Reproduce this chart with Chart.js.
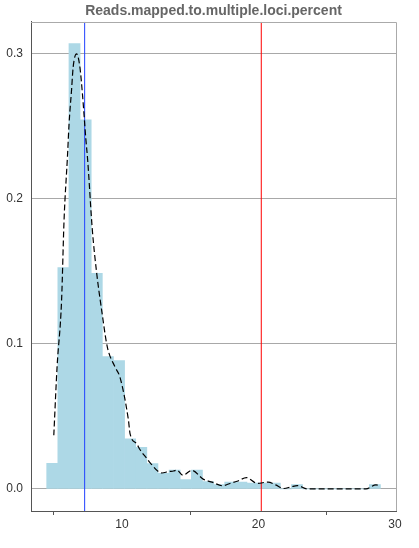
<!DOCTYPE html>
<html>
<head>
<meta charset="utf-8">
<title>Reads.mapped.to.multiple.loci.percent</title>
<script src="https://cdn.jsdelivr.net/npm/chart.js@4.4.1/dist/chart.umd.min.js"></script>
<style>
  html, body { margin: 0; padding: 0; background: #fff; }
</style>
</head>
<body>
<canvas id="chart" width="419" height="548"></canvas>
<script>
// histogram bins (centres) and density heights
const binCenters = [4.888, 5.703, 6.518, 7.333, 8.148, 8.963, 9.778, 10.593, 11.408, 12.223,
  13.038, 13.853, 14.668, 15.483, 16.298, 17.113, 17.928, 18.743, 19.558, 20.373,
  21.188, 22.003, 22.818, 23.633, 24.448, 25.263, 26.078, 26.893, 27.708, 28.523];
const binHeights = [0.0177, 0.1526, 0.307, 0.2545, 0.1487, 0.0912, 0.0885, 0.0345, 0.0287, 0.0175,
  0.0108, 0.0131, 0.0065, 0.0131, 0.005, 0.003, 0.0048, 0.0048, 0.004, 0.004,
  0.004, 0, 0.003, 0, 0, 0, 0, 0, 0, 0.003];

// kernel density curve
const densityX = [5.0, 5.24, 5.57, 5.75, 6.0, 6.12, 6.3, 6.42, 6.67, 6.91, 7.11, 7.35, 7.48, 7.82,
  8.14, 8.51, 8.92, 9.49, 9.85, 10.46, 10.59, 11.08, 11.32, 11.82, 12.06, 12.92, 13.4, 13.77,
  14.02, 14.45, 15.12, 15.97, 16.6, 17.35, 17.94, 18.43, 19.12, 19.9, 20.7, 21.25, 21.86,
  22.4, 22.84, 23.58, 27.87, 28.6, 28.85];
const densityY = [0.037, 0.084, 0.13, 0.185, 0.229, 0.252, 0.275, 0.291, 0.3, 0.291, 0.271, 0.241, 0.227, 0.179,
  0.149, 0.123, 0.098, 0.084, 0.077, 0.048, 0.038, 0.031, 0.027, 0.021, 0.018, 0.011, 0.012, 0.0124,
  0.013, 0.0095, 0.0128, 0.0066, 0.0047, 0.0022, 0.0039, 0.0053, 0.0078, 0.0039, 0.0047, 0.0028, 0.0003,
  0.0015, 0.0023, 0, 0, 0.0028, 0.0025];

// reference lines
const markerValues = [7.26, 20.2];
const markerColors = ["#2040ff", "#ff0000"];

// axes
const xTicks = [10, 20, 30];
const yTicks = [0, 0.1, 0.2, 0.3];
const xMin = 3.33, xMax = 30.07;
const yMin = -0.0152, yMax = 0.3221;

Chart.defaults.font.family = "'Liberation Sans', Arial, sans-serif";
Chart.defaults.font.size = 12;
Chart.defaults.color = "#333";

// light frame on top and right of the plot
const framePlugin = {
  id: "frame",
  afterDraw(chart) {
    const { ctx, chartArea: a } = chart;
    ctx.save();
    ctx.strokeStyle = "#aaaaaa";
    ctx.lineWidth = 1;
    ctx.beginPath();
    ctx.moveTo(a.left, Math.round(a.top) + 0.5);
    ctx.lineTo(Math.round(a.right) + 0.5, Math.round(a.top) + 0.5);
    ctx.lineTo(Math.round(a.right) + 0.5, a.bottom);
    ctx.stroke();
    ctx.restore();
  }
};

const datasets = [
  {
    type: "bar",
    label: "histogram",
    data: binCenters.map((x, i) => ({ x: x, y: binHeights[i] })),
    backgroundColor: "#add8e6",
    borderWidth: 0,
    barPercentage: 1,
    categoryPercentage: 1,
    order: 3
  },
  ...markerValues.map((v, i) => ({
    type: "line",
    label: "marker" + i,
    data: [{ x: v, y: yMin }, { x: v, y: yMax }],
    borderColor: markerColors[i],
    borderWidth: 1,
    pointRadius: 0,
    order: 2
  })),
  {
    type: "line",
    label: "density",
    data: densityX.map((x, i) => ({ x: x, y: densityY[i] })),
    borderColor: "#000",
    borderWidth: 1.2,
    borderDash: [6, 3],
    pointRadius: 0,
    fill: false,
    cubicInterpolationMode: "monotone",
    order: 1
  }
];

new Chart(document.getElementById("chart"), {
  type: "bar",
  data: { datasets: datasets },
  options: {
    responsive: false,
    animation: false,
    layout: { padding: { left: 0, right: 23, top: 0, bottom: 0 } },
    plugins: {
      legend: { display: false },
      tooltip: { enabled: false },
      title: {
        display: true,
        text: "Reads.mapped.to.multiple.loci.percent",
        color: "#666",
        fullSize: false,
        font: { size: 14, weight: "bold" },
        padding: { top: 3, bottom: 2 }
      }
    },
    scales: {
      x: {
        type: "linear",
        min: xMin,
        max: xMax,
        offset: false,
        afterBuildTicks: (s) => { s.ticks = xTicks.map(v => ({ value: v })); },
        afterFit: (s) => { s.height = 37; },
        ticks: { padding: 2, color: "#333" },
        grid: { drawOnChartArea: false, drawTicks: true, tickLength: 4, color: "#555" },
        border: { color: "#555", width: 1 }
      },
      y: {
        min: yMin,
        max: yMax,
        afterBuildTicks: (s) => { s.ticks = yTicks.map(v => ({ value: v })); },
        afterFit: (s) => { s.width = 31; },
        ticks: { padding: 8, color: "#333", callback: (v) => Number(v).toFixed(1) },
        grid: { color: "#a8a8a8", drawTicks: false },
        border: { color: "#555", width: 1 }
      }
    }
  },
  plugins: [framePlugin]
});
</script>
</body>
</html>
